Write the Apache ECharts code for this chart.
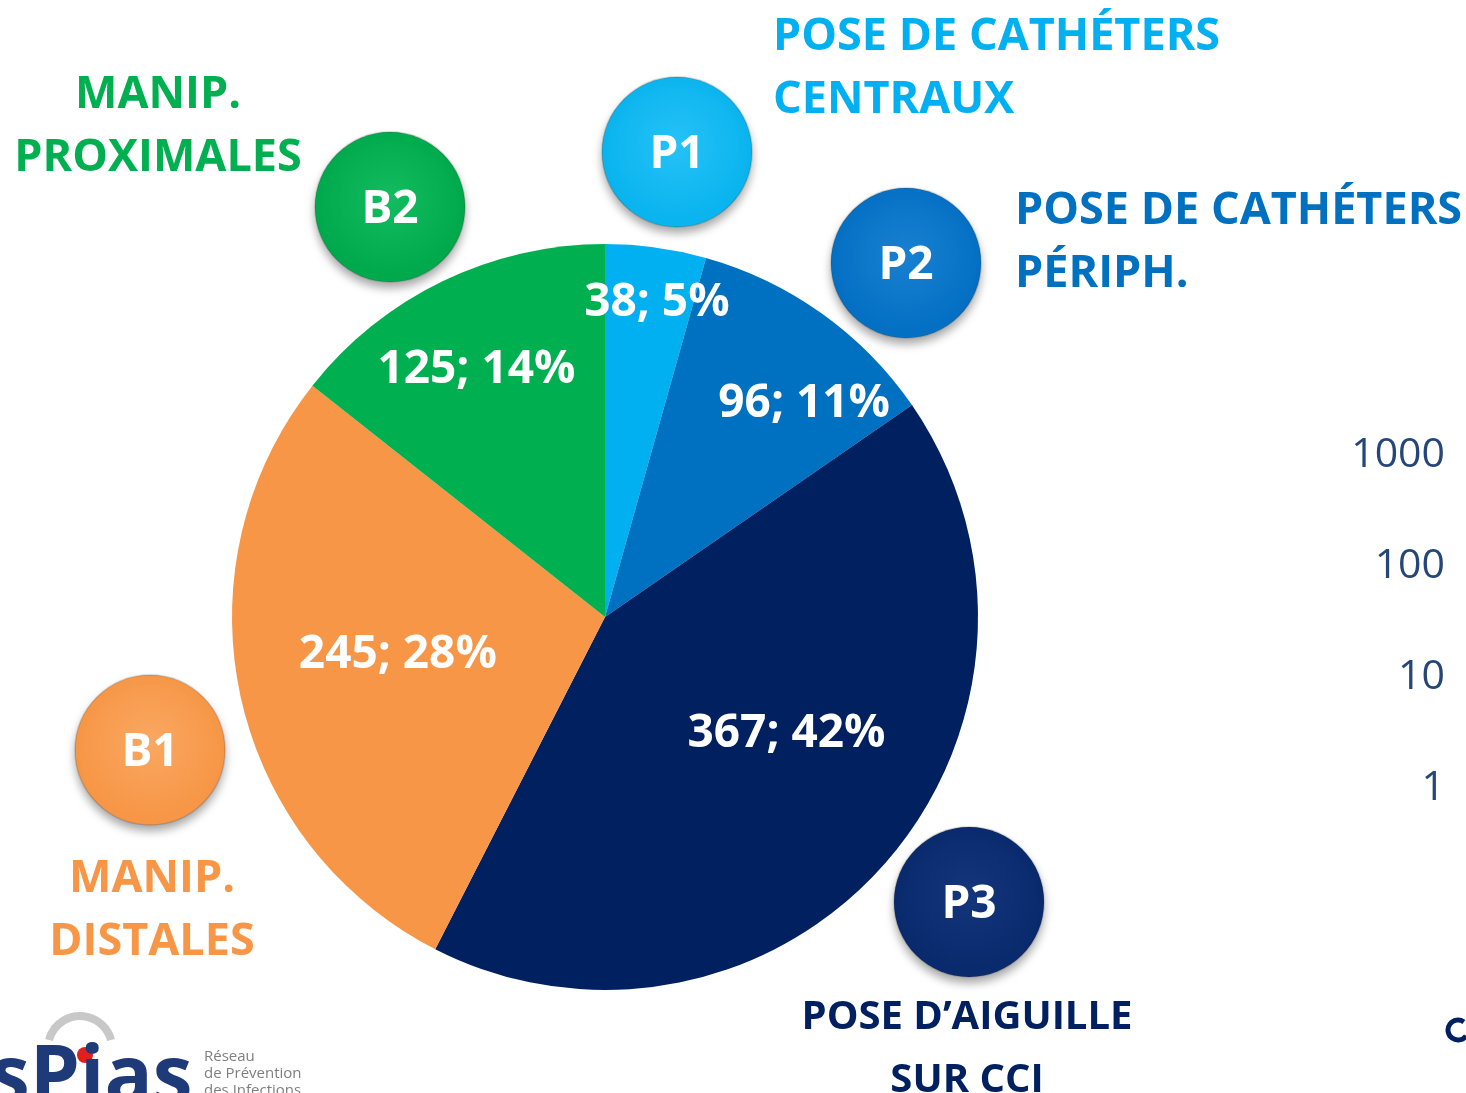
<!DOCTYPE html>
<html>
<head>
<meta charset="utf-8">
<script src="https://cdn.jsdelivr.net/npm/echarts@6/dist/echarts.min.js"></script>
<style>
  html, body { margin: 0; padding: 0; background: #fff; }
  #main { width: 1466px; height: 1093px; }
</style>
</head>
<body>
<div id="main"></div>
<script>
// slices, clockwise from 12 o'clock
const categories = ['P1', 'P2', 'P3', 'B1', 'B2'];
const counts = [38, 96, 367, 245, 125];
const percents = [5, 11, 42, 28, 14];
const sliceColors = ['#00B0F0', '#0070C0', '#002060', '#F79646', '#00B050'];

// tick labels of the cropped log axis on the right
const logTicks = [1, 10, 100, 1000];

// label nudges (px) away from the default mid-radius spot
const labelOffsets = [[26, -126], [89, -59], [39, -8], [-22, -2], [-46, -77]];

const FONT = '"Open Sans", "Noto Sans", sans-serif';

const bubble = (name, cx, cy, color, light) => ({
  type: 'group',
  children: [
    {
      type: 'circle',
      shape: { cx: cx, cy: cy, r: 75 },
      style: {
        fill: {
          type: 'radial', x: 0.5, y: 0.45, r: 0.55,
          colorStops: [{ offset: 0, color: light }, { offset: 0.9, color: color }, { offset: 1, color: color }],
        },
        stroke: 'rgba(0,0,0,0.15)',
        lineWidth: 1.5,
        shadowBlur: 10,
        shadowOffsetY: 6,
        shadowColor: 'rgba(0,0,0,0.35)',
      },
    },
    {
      type: 'text',
      style: {
        x: cx, y: cy + 3, text: name, fill: '#fff',
        font: 'bold 46px ' + FONT, align: 'center', verticalAlign: 'middle',
      },
    },
  ],
});

const title = (lines, x, y, color, align, size) => ({
  type: 'group',
  children: lines.map((t, i) => ({
    type: 'text',
    style: {
      x: x, y: y + i * 63, text: t, fill: color,
      font: 'bold ' + size + 'px ' + FONT, align: align, verticalAlign: 'middle',
    },
  })),
});

const myChart = echarts.init(document.getElementById('main'));

const option = {
  animation: false,
  backgroundColor: '#fff',
  grid: { left: 1453, right: 3, top: 455, bottom: 305 },
  xAxis: { type: 'value', show: false },
  yAxis: {
    type: 'log',
    logBase: 10,
    min: logTicks[0],
    max: logTicks[logTicks.length - 1],
    axisLine: { show: false },
    axisTick: { show: false },
    splitLine: { show: false },
    axisLabel: {
      color: '#24467A', fontSize: 41, fontFamily: FONT, margin: 8,
      formatter: (v) => String(Math.round(v)),
    },
  },
  series: [
    {
      type: 'pie',
      center: [605, 617],
      radius: 373,
      startAngle: 90,
      clockwise: true,
      silent: true,
      emphasis: { disabled: true },
      labelLine: { show: false },
      data: categories.map((c, i) => ({
        name: c,
        value: counts[i],
        itemStyle: { color: sliceColors[i] },
        label: { offset: labelOffsets[i] },
      })),
      label: {
        show: true,
        position: 'inside',
        color: '#fff',
        fontSize: 46,
        fontWeight: 'bold',
        fontFamily: FONT,
        formatter: (p) => `${counts[p.dataIndex]}; ${percents[p.dataIndex]}%`,
      },
    },
  ],
  graphic: [
    bubble('P1', 677, 152, '#0AB4EE', '#25C2F7'),
    bubble('B2', 390, 207, '#00A94C', '#14BC60'),
    bubble('P2', 906, 263, '#0470C4', '#1880D0'),
    bubble('B1', 150, 750, '#F79646', '#F9A862'),
    bubble('P3', 969, 902, '#0A2A6E', '#15357C'),
    title(['MANIP.', 'PROXIMALES'], 158, 95, '#00B050', 'center', 45),
    title(['POSE DE CATHÉTERS', 'CENTRAUX'], 773, 37, '#00B0F0', 'left', 45),
    title(['POSE DE CATHÉTERS', 'PÉRIPH.'], 1015, 211, '#0070C0', 'left', 45),
    title(['MANIP.', 'DISTALES'], 152, 879, '#F79646', 'center', 45),
    title(['POSE D’AIGUILLE', 'SUR CCI'], 967, 1018, '#002060', 'center', 40),
    // logo fragment, bottom left
    {
      type: 'arc',
      shape: { cx: 80, cy: 1048, r: 32, startAngle: Math.PI * 1.08, endAngle: Math.PI * 1.92 },
      style: { stroke: '#C8C8C8', lineWidth: 8, fill: null },
    },
    { type: 'circle', shape: { cx: 85, cy: 1055, r: 8 }, style: { fill: '#E02020' } },
    {
      type: 'text',
      style: {
        x: -10, y: 1040, text: 'sPias', fill: '#1F3A78',
        font: 'bold 80px ' + FONT, align: 'left', verticalAlign: 'top',
      },
    },
    {
      type: 'text',
      style: {
        x: 204, y: 1048, text: 'Réseau\nde Prévention\ndes Infections', fill: '#7F7F7F',
        font: '15px ' + FONT, lineHeight: 17, align: 'left', verticalAlign: 'top',
      },
    },
    // cropped glyph, bottom right
    {
      type: 'arc',
      shape: { cx: 1458, cy: 1030, r: 10, startAngle: Math.PI * 0.2, endAngle: Math.PI * 1.7 },
      style: { stroke: '#002060', lineWidth: 5, fill: null },
    },
  ],
};

myChart.setOption(option);
window.addEventListener('resize', () => {
  myChart.resize();
});
</script>
</body>
</html>
